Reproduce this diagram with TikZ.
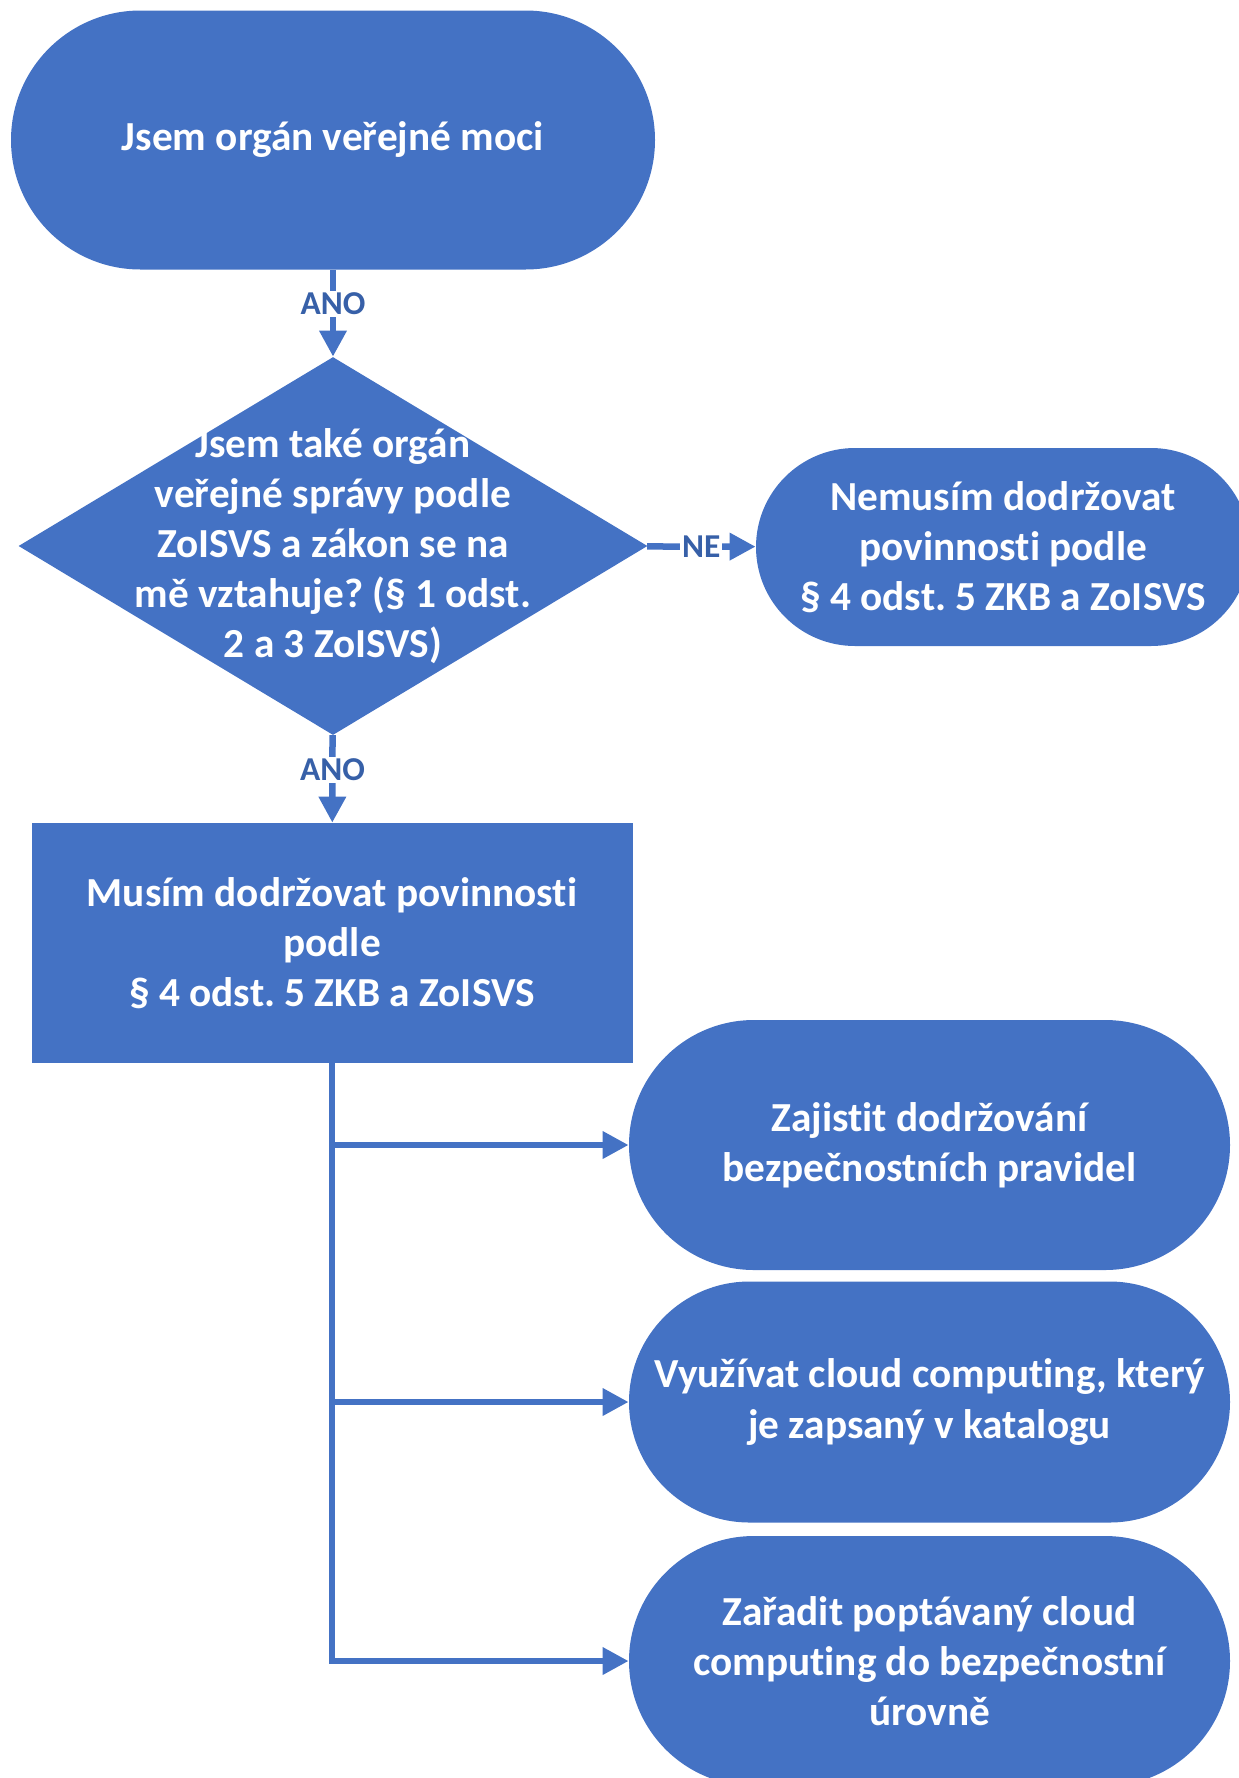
\documentclass[tikz,border=0pt]{standalone}
\usepackage{fontspec}
\setmainfont{Carlito}[Ligatures=NoCommon]
\frenchspacing
\usetikzlibrary{shapes.geometric,arrows.meta}
\definecolor{boxblue}{HTML}{4472C4}
\definecolor{labelblue}{HTML}{3760A8}
\tikzset{
  boxtext/.style={text=white, font=\fontsize{23.5}{28.5}\selectfont\bfseries, align=center, inner sep=0pt},
  term/.style={boxtext, fill=boxblue, rounded corners=2.5cm, minimum width=12.02cm, minimum height=5cm},
  decision/.style={shape=diamond, fill=boxblue, inner sep=0pt, minimum width=12.58cm, minimum height=7.56cm},
  proc/.style={boxtext, fill=boxblue, minimum width=12.02cm, minimum height=4.8cm},
  flow/.style={draw=boxblue, line width=0.13cm, -{Triangle[length=0.52cm,width=0.52cm]}},
  answer/.style={fill=white, text=labelblue, font=\fontsize{19}{21}\selectfont\bfseries, inner sep=1pt}
}
\begin{document}
\begin{tikzpicture}
\useasboundingbox (0,0) rectangle (24.78,-35.56);

\node[term, minimum width=12.88cm, minimum height=5.18cm, rounded corners=2.59cm] (start) at (6.66,-2.8) {Jsem orgán veřejné moci};
\node[decision] (dec) at (6.66,-10.92) {};
\node[boxtext] (dectext) at (dec) {Jsem také orgán\\veřejné správy podle\\ZoISVS a zákon se na\\mě vztahuje? (§ 1 odst.\\2 a 3 ZoISVS)};
\node[term, minimum width=9.88cm, minimum height=3.96cm, rounded corners=1.98cm] (nomust) at (20.06,-10.94) {Nemusím dodržovat\\povinnosti podle\\§ 4 odst. 5 ZKB a ZoISVS};
\node[proc] (must) at (6.64,-18.86) {Musím dodržovat povinnosti\\podle\\§ 4 odst. 5 ZKB a ZoISVS};

\node[term] (rules) at (18.59,-22.9) {Zajistit dodržování\\bezpečnostních pravidel};
\node[term, minimum height=4.82cm, rounded corners=2.41cm] (cloud) at (18.59,-28.04) {Využívat cloud computing, který\\je zapsaný v katalogu};
\node[term] (level) at (18.59,-33.22) {Zařadit poptávaný cloud\\computing do bezpečnostní\\úrovně};

\draw[flow] (start) -- node[answer, pos=0.39] {ANO} (dec);
\draw[flow] (dec) -- node[answer] {NE} (nomust);
\draw[flow] (dec) -- node[answer, pos=0.4] {ANO} (must);

\draw[flow] (must.south) |- (level.west);
\foreach \t in {rules,cloud}
  \draw[flow] (must.south |- \t.west) -- (\t.west);

\end{tikzpicture}
\end{document}
